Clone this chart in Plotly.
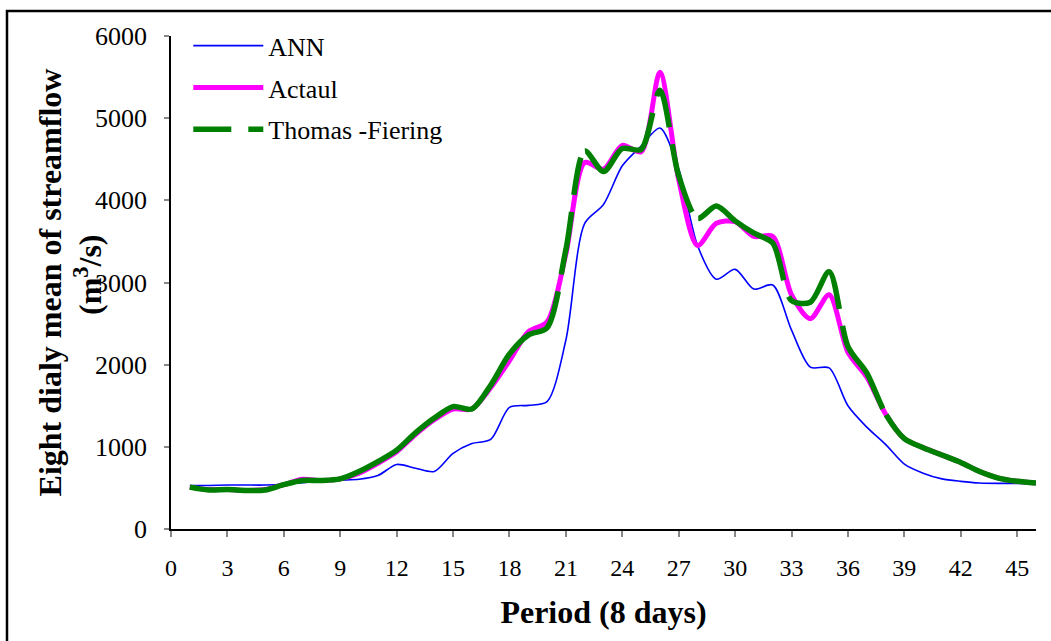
import math
import plotly.graph_objects as go

period = list(range(1, 47))

ann = [530, 530, 535, 535, 535, 545, 565, 580, 595, 605,
       650, 785, 740, 700, 920, 1040, 1090, 1480, 1505, 1550,
       2300, 3720, 3950, 4420, 4660, 4880, 4380, 3450, 3040, 3160,
       2920, 2970, 2420, 1970, 1960, 1500, 1240, 1030, 790, 680,
       610, 580, 560, 555, 555, 555]

actual = [510, 480, 480, 470, 480, 540, 605, 590, 610, 680,
          800, 940, 1150, 1330, 1460, 1460, 1720, 2050, 2400, 2520,
          3350, 4460, 4380, 4670, 4590, 5560, 4250, 3450, 3720, 3740,
          3560, 3560, 2850, 2560, 2850, 2150, 1850, 1400, 1100, 990,
          900, 810, 700, 620, 580, 560]

thomas = [510, 475, 480, 470, 475, 540, 590, 590, 610, 700,
          820, 960, 1170, 1350, 1490, 1460, 1750, 2130, 2360, 2450,
          3400, 4600, 4350, 4630, 4620, 5340, 4300, 3780, 3930, 3750,
          3600, 3480, 2780, 2760, 3130, 2220, 1900, 1400, 1100, 990,
          900, 810, 700, 620, 580, 560]

x_ticks = list(range(0, 46, 3))
y_ticks = [0, 1000, 2000, 3000, 4000, 5000, 6000]

FONT = "Liberation Serif, Times New Roman, serif"

# ---- layout geometry (style only) ----
W, H = 1051, 641
ML, MR, MT, MB = 171, 15, 36, 112
PW, PH = W - ML - MR, H - MT - MB
XR, YR = (0, 46), (0, 6000)
SMOOTH = 0.8
DASH_ON, DASH_OFF = 38.0, 17.0


def excel_style_dash(xs, ys):
    """Dash pattern that restarts at every data point (as the source software does),
    expressed as one SVG dash array along the plotted spline."""
    pts = [((x - XR[0]) / (XR[1] - XR[0]) * PW, (1 - (y - YR[0]) / (YR[1] - YR[0])) * PH)
           for x, y in zip(xs, ys)]

    def tangent(p0, p1, p2):
        d1x, d1y = p0[0] - p1[0], p0[1] - p1[1]
        d2x, d2y = p2[0] - p1[0], p2[1] - p1[1]
        d1a = (d1x * d1x + d1y * d1y) ** 0.25
        d2a = (d2x * d2x + d2y * d2y) ** 0.25
        nx = (d2a * d2a * d1x - d1a * d1a * d2x) * SMOOTH
        ny = (d2a * d2a * d1y - d1a * d1a * d2y) * SMOOTH
        den1 = 3 * d2a * (d1a + d2a)
        den2 = 3 * d1a * (d1a + d2a)
        return ((p1[0] + nx / den1, p1[1] + ny / den1),
                (p1[0] - nx / den2, p1[1] - ny / den2))

    tans = [tangent(pts[i - 1], pts[i], pts[i + 1]) for i in range(1, len(pts) - 1)]
    segs = []
    n = len(pts)
    for i in range(n - 1):
        a, b = pts[i], pts[i + 1]
        if i == 0:
            ctrl = [a, tans[0][0], b]
        elif i == n - 2:
            ctrl = [a, tans[-1][1], b]
        else:
            ctrl = [a, tans[i - 1][1], tans[i][0], b]
        segs.append(ctrl)

    def bez(ctrl, t):
        if len(ctrl) == 3:
            p0, p1, p2 = ctrl
            return tuple((1 - t) ** 2 * p0[k] + 2 * (1 - t) * t * p1[k] + t * t * p2[k] for k in range(2))
        p0, p1, p2, p3 = ctrl
        return tuple((1 - t) ** 3 * p0[k] + 3 * (1 - t) ** 2 * t * p1[k]
                     + 3 * (1 - t) * t * t * p2[k] + t ** 3 * p3[k] for k in range(2))

    lengths = []
    for ctrl in segs:
        L, prev = 0.0, bez(ctrl, 0)
        for j in range(1, 201):
            cur = bez(ctrl, j / 200)
            L += math.hypot(cur[0] - prev[0], cur[1] - prev[1])
            prev = cur
        lengths.append(L)

    runs = []  # list of [on(bool), length]

    def push(on, length):
        if length <= 0:
            return
        if runs and runs[-1][0] == on:
            runs[-1][1] += length
        else:
            runs.append([on, length])

    for L in lengths:
        pos, on = 0.0, True
        while pos < L:
            step = DASH_ON if on else DASH_OFF
            push(on, min(step, L - pos))
            pos += step
            on = not on
    push(True, 50)
    if len(runs) % 2:
        runs.append([False, 1])
    return ",".join(f"{r[1]:.2f}px" for r in runs)


fig = go.Figure()
fig.add_trace(go.Scatter(x=period, y=ann, name="ANN", mode="lines",
                         line=dict(color="#0000FF", width=1.6, shape="spline", smoothing=SMOOTH)))
fig.add_trace(go.Scatter(x=period, y=actual, name="Actaul", mode="lines",
                         line=dict(color="#FF00FF", width=5, shape="spline", smoothing=SMOOTH)))
fig.add_trace(go.Scatter(x=period, y=thomas, name="Thomas -Fiering", mode="lines",
                         showlegend=False, legendgroup="tf",
                         line=dict(color="#008000", width=5.5, shape="spline", smoothing=SMOOTH,
                                   dash=excel_style_dash(period, thomas))))
# legend sample for the dashed series
fig.add_trace(go.Scatter(x=[None], y=[None], name="Thomas -Fiering", mode="lines",
                         legendgroup="tf",
                         line=dict(color="#008000", width=5.5, dash="38px,17px")))

fig.update_layout(
    width=W, height=H,
    margin=dict(l=ML, r=MR, t=MT, b=MB),
    paper_bgcolor="white", plot_bgcolor="white",
    font=dict(family=FONT, color="black", size=24),
    showlegend=True,
    legend=dict(x=0.02, y=1.028, xanchor="left", yanchor="top",
                font=dict(family=FONT, size=26, color="black"),
                bgcolor="rgba(0,0,0,0)", tracegroupgap=5, itemwidth=70),
    xaxis=dict(range=list(XR), tickvals=x_ticks, ticktext=[str(v) for v in x_ticks],
               showline=True, linecolor="black", linewidth=1.5,
               ticks="outside", ticklen=6, tickcolor="#888888", tickwidth=1.5,
               showgrid=False, zeroline=False,
               tickfont=dict(family=FONT, size=24), ticklabelstandoff=10,
               title=dict(text="<b>Period (8 days)</b>", font=dict(family=FONT, size=32),
                          standoff=21)),
    yaxis=dict(range=list(YR), tickvals=y_ticks, ticktext=[str(v) for v in y_ticks],
               showline=True, linecolor="black", linewidth=1.5,
               ticks="outside", ticklen=5, tickcolor="#888888", tickwidth=1.5,
               showgrid=False, zeroline=False,
               tickfont=dict(family=FONT, size=26), ticklabelstandoff=12,
               title=dict(text="<b>Eight dialy mean of streamflow</b>",
                          font=dict(family=FONT, size=32), standoff=24)),
    annotations=[dict(text="<b>(m<sup>3</sup>/s)</b>", textangle=-90,
                      xref="paper", yref="paper", x=(88 - ML) / PW, y=(H - MB - 275) / PH,
                      xanchor="center", yanchor="middle", showarrow=False,
                      font=dict(family=FONT, size=32, color="black"))],
    shapes=[dict(type="rect", xref="paper", yref="paper",
                 x0=-0.1896, x1=1.2, y0=-0.4, y1=1.0507,
                 line=dict(color="black", width=2.5), fillcolor="rgba(0,0,0,0)",
                 layer="below")],
)

fig.write_html("out.html")
